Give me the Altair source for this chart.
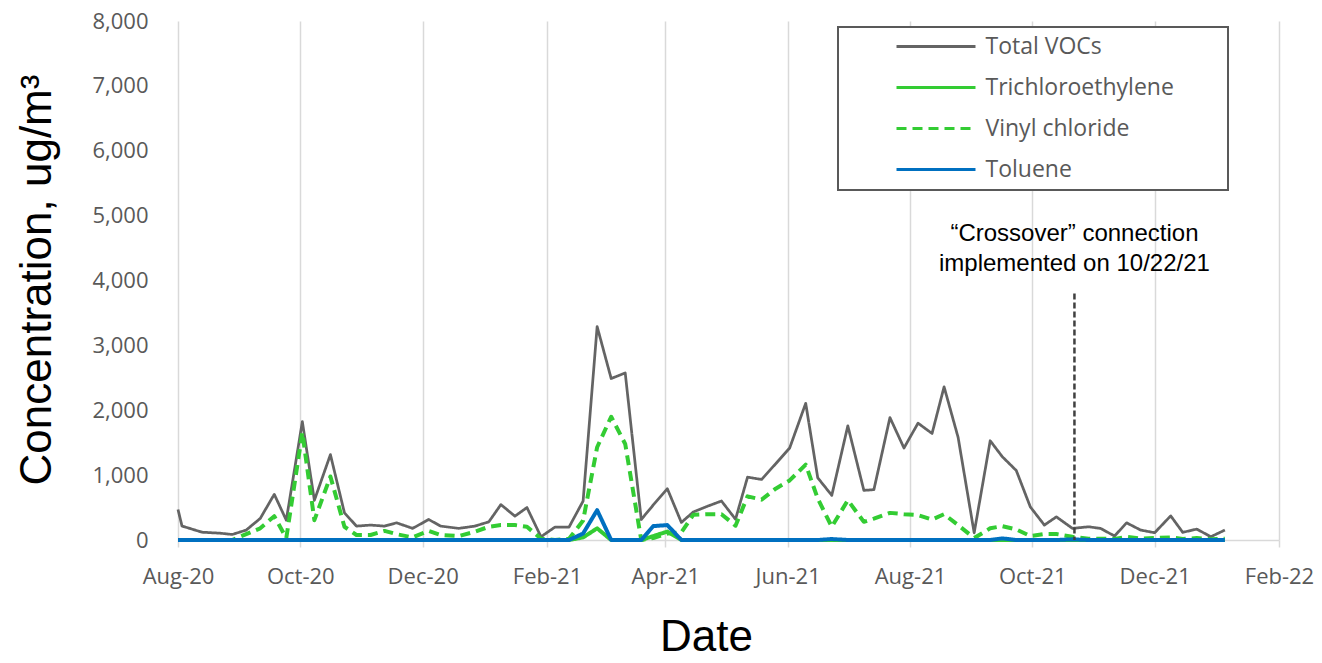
import altair as alt
import pandas as pd

# ---------------- data ----------------
dates = [
    "2020-08-01", "2020-08-03", "2020-08-13", "2020-08-22", "2020-08-28",
    "2020-09-04", "2020-09-11", "2020-09-18", "2020-09-24",
    "2020-10-02", "2020-10-08", "2020-10-16", "2020-10-23", "2020-10-29",
    "2020-11-05", "2020-11-12", "2020-11-18", "2020-11-26",
    "2020-12-04", "2020-12-10", "2020-12-19", "2020-12-27",
    "2021-01-03", "2021-01-09", "2021-01-16", "2021-01-22", "2021-01-29",
    "2021-02-05", "2021-02-12", "2021-02-19", "2021-02-26",
    "2021-03-05", "2021-03-12", "2021-03-20", "2021-03-26",
    "2021-04-02", "2021-04-09", "2021-04-15", "2021-04-22", "2021-04-29",
    "2021-05-06", "2021-05-12", "2021-05-19", "2021-05-26",
    "2021-06-02", "2021-06-10", "2021-06-16", "2021-06-23",
    "2021-07-01", "2021-07-09", "2021-07-14", "2021-07-22", "2021-07-29",
    "2021-08-05", "2021-08-12", "2021-08-18", "2021-08-25",
    "2021-09-02", "2021-09-10", "2021-09-16", "2021-09-23", "2021-09-30",
    "2021-10-07", "2021-10-13", "2021-10-21", "2021-10-29",
    "2021-11-04", "2021-11-11", "2021-11-17", "2021-11-24",
    "2021-12-01", "2021-12-09", "2021-12-15", "2021-12-22", "2021-12-29",
    "2022-01-05",
]

total_vocs = [
    470, 215, 120, 105, 85,
    153, 332, 704, 306,
    1825, 612, 1316, 418, 214,
    230, 214, 265, 179,
    316, 214, 179, 214,
    280, 546, 367, 500, 50,
    200, 200, 600, 3290,
    2489, 2575, 316, 540,
    791, 271, 433, 520, 601,
    320, 969, 933, 1174,
    1418, 2107, 959, 688,
    1760, 765, 776, 1887, 1418,
    1801, 1642, 2361, 1581,
    110, 1530, 1285, 1071, 510,
    230, 357, 179, 204,
    179, 61, 265, 153,
    112, 372, 118, 168, 50,
    153,
]

trichloroethylene = [
    0, 0, 0, 0, 0,
    0, 0, 0, 0,
    0, 0, 0, 0, 0,
    0, 0, 0, 0,
    0, 0, 0, 0,
    0, 0, 0, 0, 0,
    0, 0, 40, 180,
    0, 0, 0, 60,
    130, 0, 0, 0, 0,
    0, 0, 0, 0,
    0, 0, 0, 0,
    0, 0, 0, 0, 0,
    0, 0, 0, 0,
    0, 0, 0, 0, 0,
    0, 0, 0, 0,
    0, 0, 0, 0,
    0, 0, 0, 0, 0,
    0,
]

vinyl_chloride = [
    0, 0, 0, 0, 0,
    90, 180, 367, 30,
    1657, 306, 979, 204, 77,
    77, 140, 90, 40,
    140, 77, 60, 127,
    204, 230, 230, 204, 20,
    0, 20, 300, 1430,
    1900, 1480, 0, 30,
    100, 120, 390, 398, 398,
    220, 673, 622, 791,
    918, 1163, 638, 204,
    612, 280, 330, 418, 398,
    383, 316, 398, 230,
    30, 180, 214, 163, 61,
    92, 92, 50, 20,
    20, 15, 50, 20,
    30, 40, 15, 30, 10,
    20,
]

toluene = [
    0, 0, 0, 0, 0,
    0, 0, 0, 0,
    0, 0, 0, 0, 0,
    0, 0, 0, 0,
    0, 0, 0, 0,
    0, 0, 0, 0, 0,
    0, 0, 100, 460,
    0, 0, 0, 214,
    230, 0, 0, 0, 0,
    0, 0, 0, 0,
    0, 0, 0, 15,
    0, 0, 0, 0, 0,
    0, 0, 0, 0,
    0, 0, 25, 0, 0,
    0, 0, 10, 0,
    0, 0, 0, 0,
    0, 0, 0, 0, 0,
    0,
]

series_names = ["Total VOCs", "Trichloroethylene", "Vinyl chloride", "Toluene"]
series_colors = ["#646464", "#33cc33", "#33cc33", "#0070c0"]
series_dashes = [[1, 0], [1, 0], [10, 6], [1, 0]]
series_widths = [2.75, 4, 4, 4]

y_ticks = [0, 1000, 2000, 3000, 4000, 5000, 6000, 7000, 8000]
x_tick_months = [(2020, 8), (2020, 10), (2020, 12), (2021, 2), (2021, 4),
                 (2021, 6), (2021, 8), (2021, 10), (2021, 12), (2022, 2)]

crossover_date = "2021-10-22"
crossover_top = 3800
annotation_lines = ["\u201cCrossover\u201d connection", "implemented on 10/22/21"]
annotation_y = 4714

# ---------------- build table ----------------
rows = []
for name, vals in zip(series_names, [total_vocs, trichloroethylene, vinyl_chloride, toluene]):
    for d, v in zip(dates, vals):
        rows.append({"date": d, "series": name, "value": v})
df = pd.DataFrame(rows)
df["date"] = pd.to_datetime(df["date"])

ann = pd.DataFrame({"date": pd.to_datetime([crossover_date]),
                    "top": [crossover_top], "bottom": [0], "ty": [annotation_y]})

x_dom = [alt.DateTime(year=2020, month=8, date=1), alt.DateTime(year=2022, month=2, date=1)]
x_vals = [alt.DateTime(year=y, month=m, date=1) for y, m in x_tick_months]

x_axis = alt.Axis(
    values=x_vals, format="%b-%y", labelFlush=False, labelOverlap=False,
    grid=True, gridColor="#d9d9d9", gridWidth=1.5,
    domainColor="#d9d9d9", domainWidth=1.5,
    ticks=True, tickColor="#d9d9d9", tickSize=7, tickWidth=1.5,
    labelFont="Open Sans", labelFontSize=22, labelColor="#595959", labelPadding=19,
    title="Date", titleFont="Liberation Sans", titleFontSize=44, titleFontWeight="normal",
    titleColor="black", titleX=528, titleY=110, titleBaseline="alphabetic", titleAlign="center",
)
y_axis = alt.Axis(
    values=y_ticks, format=",.0f", grid=False, domain=False, ticks=False, tickSize=0,
    labelFont="Open Sans", labelFontSize=22, labelColor="#595959", labelPadding=30,
    title="Concentration, ug/m\u00b3", titleFont="Liberation Sans", titleFontSize=44,
    titleFontWeight="normal", titleColor="black", titleX=-128, titleY=258.5,
    titleAngle=270, titleBaseline="alphabetic", titleAlign="center",
)

legend = alt.Legend(
    title="\u00a0", titleOrient="left", titleFontSize=2, titlePadding=51,
    orient="none", legendX=660, legendY=6,
    padding=8, strokeColor="#595959", fillColor="white",
    symbolType="M-4,0L4,0", symbolSize=390, symbolOffset=27.5, labelOffset=38,
    symbolStrokeWidth=3, labelFont="Open Sans", labelFontSize=23, labelColor="#595959",
    labelLimit=500, rowPadding=17,
    labelExpr="datum.label + ' \u2800 \u2800'",
)

color_scale = alt.Scale(domain=series_names, range=series_colors)
dash_scale = alt.Scale(domain=series_names, range=series_dashes)

x_enc = alt.X("date:T", scale=alt.Scale(domain=x_dom, nice=False), axis=x_axis)
y_enc = alt.Y("value:Q", scale=alt.Scale(domain=[0, 8000], nice=False), axis=y_axis)

base = alt.Chart(df)
layers = []
for name, w in zip(series_names, series_widths):
    layers.append(
        base.transform_filter(alt.datum.series == name)
        .mark_line(strokeWidth=w, strokeJoin="round")
        .encode(
            x=x_enc, y=y_enc,
            color=alt.Color("series:N", scale=color_scale, legend=legend),
            strokeDash=alt.StrokeDash("series:N", scale=dash_scale, legend=legend),
        )
    )

rule = alt.Chart(ann).mark_rule(color="#404040", strokeWidth=2.5, strokeDash=[6, 3]).encode(
    x="date:T", y="top:Q", y2="bottom:Q"
)
text = alt.Chart(ann).mark_text(
    font="Liberation Sans", fontSize=24, color="black", baseline="middle",
    align="center", lineHeight=30,
).encode(x="date:T", y="ty:Q", text=alt.value(annotation_lines))

chart = alt.layer(*layers, rule, text).properties(
    width=1101, height=519,
    padding={"left": 170, "top": 13, "right": 35, "bottom": 113},
    autosize=alt.AutoSizeParams(type="none"),
    background="white",
).configure_view(stroke=None).configure_legend(strokeWidth=2)

chart.save("out.html", embed_options={"renderer": "svg", "actions": False})
